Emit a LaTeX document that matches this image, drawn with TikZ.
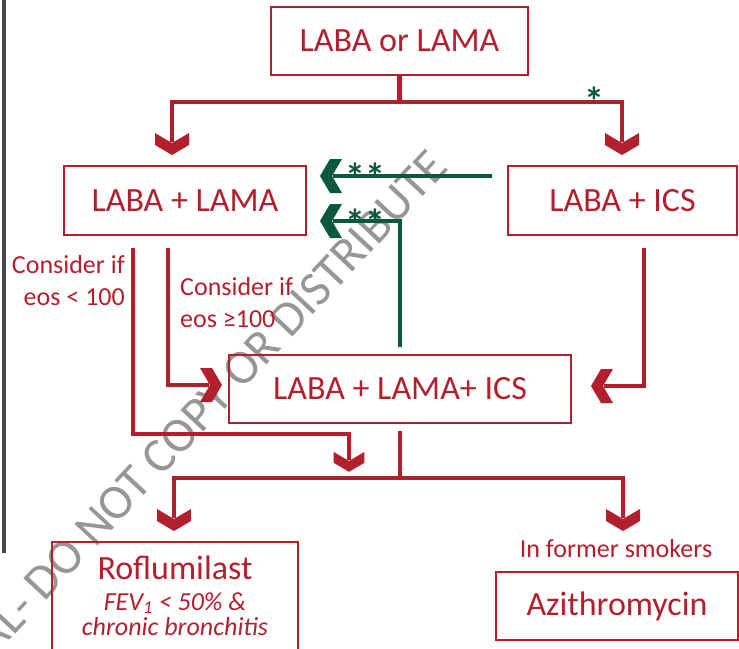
\documentclass[tikz,border=0pt]{standalone}
\usepackage{fontspec}
\setmainfont{Carlito}
\definecolor{cred}{RGB}{178,32,46}
\definecolor{cgreen}{RGB}{12,88,62}
\definecolor{cbar}{RGB}{72,72,72}
\definecolor{wm}{RGB}{150,150,150}
\begin{document}
\begin{tikzpicture}[x=1pt,y=-1pt,
 box/.style={draw=cred, line width=2.2pt, text=cred, inner sep=0pt, font=\fontsize{34}{40}\selectfont},
 redl/.style={draw=cred, line width=4.5pt},
 greenl/.style={draw=cgreen, line width=4.5pt},
 small/.style={text=cred, inner sep=0pt, font=\fontsize{26}{32}\selectfont},
 smallit/.style={text=cred, inner sep=0pt, font=\fontsize{26}{32}\selectfont\itshape},
 star/.style={text=cgreen, inner sep=0pt, font=\fontsize{40}{46}\selectfont\bfseries},
 chev/.pic={\fill (-17,0) -- (0,10) -- (17,0) -- (17,12) -- (0,22) -- (-17,12) -- cycle;},
]
\useasboundingbox (0,0) rectangle (739,648);
% watermark
\node[text=wm, inner sep=0pt, rotate=47, anchor=east, font=\fontsize{49}{55}\selectfont] (wmark) at (438,158) {AL- DO NOT COPY OR DISTRIBUTE};
% left bar
\fill[cbar] (2,0) rectangle (6,553);

% boxes
\node[box, minimum width=257pt, minimum height=68pt] (top) at (399.5,41) {LABA or LAMA};
\node[box, minimum width=242pt, minimum height=69pt] (lama) at (185,200.5) {LABA + LAMA};
\node[box, minimum width=229pt, minimum height=69pt] (ics) at (622.5,200.5) {LABA + ICS};
\node[box, minimum width=342pt, minimum height=68pt] (triple) at (400,389) {LABA + LAMA+ ICS};
\node[box, minimum width=246pt, minimum height=130pt, anchor=north] (rof) at (175,541) {};
\node[box, draw=none, anchor=base] (rofname) at (175,579) {Roflumilast};
\node[smallit, anchor=base] (rofnote1) at (175,610) {FEV\textsubscript{1} < 50\% \&};
\node[smallit, anchor=base] (rofnote2) at (175,635) {chronic bronchitis};
\node[box, minimum width=242pt, minimum height=68pt] (azi) at (617,606) {Azithromycin};

% labels
\node[small, anchor=base east] (c1a) at (125,273) {Consider if};
\node[small, anchor=base east] (c1b) at (125,305) {eos < 100};
\node[small, anchor=base west] (c2a) at (180,295) {Consider if};
\node[small, anchor=base west] (c2b) at (180,327) {eos ≥100};
\node[small, anchor=base] (smok) at (616,557) {In former smokers};
\node[star, anchor=base west] (s0) at (584,115) {*};
\node[star, anchor=base west] (s1) at (345,191) {**};
\node[star, anchor=base west] (s2) at (345,237) {**};

% arrow-end coordinates
\coordinate (e1) at (172,142);
\coordinate (e2) at (622,142);
\coordinate (k1) at (349,434);
\coordinate (e3) at (349,460);
\coordinate (e4) at (209,385);
\coordinate (e5) at (604,386);
\coordinate (e6) at (174,518);
\coordinate (e7) at (623,518);
\coordinate (g1e) at (333,176);
\coordinate (g2e) at (333,221);

% red connectors
\draw[redl] (top.south) -- ++(0,26) coordinate (tj);
\draw[redl] (tj) -| (e1);
\draw[redl] (tj) -| (e2);
\draw[redl] ([xshift=-52pt,yshift=-12pt]lama.south) |- (k1) -- (e3);
\draw[redl] ([xshift=-17pt,yshift=-12pt]lama.south) |- (e4);
\draw[redl] ([xshift=21.5pt,yshift=-12pt]ics.south) |- (e5);
\draw[redl] ([yshift=-7pt]triple.south) -- ++(0,47) coordinate (tj2);
\draw[redl] (tj2) -| (e6);
\draw[redl] (tj2) -| (e7);
% green connectors
\draw[greenl] ([xshift=-15pt,yshift=24.5pt]ics.west) -- (g1e);
\draw[greenl] ([yshift=7pt]triple.north) |- (g2e);

% chevrons
\pic[fill=cred] at (172,133) {chev};
\pic[fill=cred] at (622,133) {chev};
\pic[fill=cred, scale=0.9] at (349,452) {chev};
\pic[fill=cred, rotate=90] at (200,385) {chev};
\pic[fill=cred, rotate=-90] at (613,386) {chev};
\pic[fill=cred] at (174,509) {chev};
\pic[fill=cred] at (623,509) {chev};
\pic[fill=cgreen, rotate=-90] at (342,176) {chev};
\pic[fill=cgreen, rotate=-90] at (342,221) {chev};
\end{tikzpicture}
\end{document}
